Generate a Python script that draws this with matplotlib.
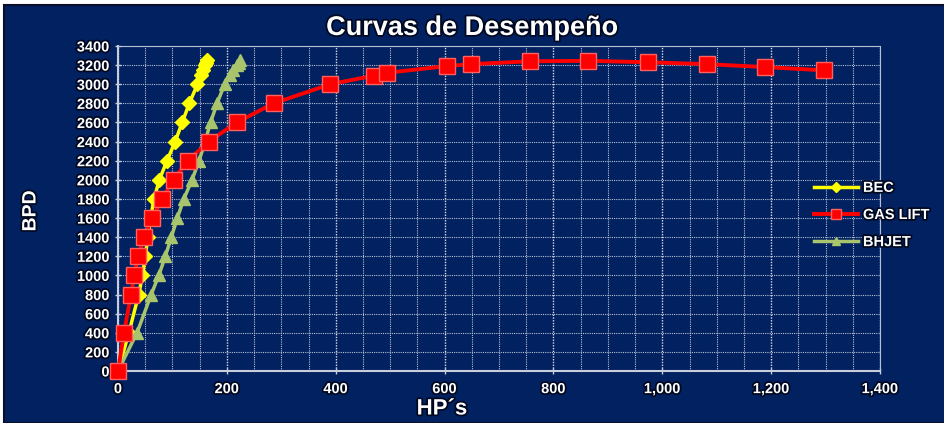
import matplotlib
matplotlib.use("Agg")
import matplotlib.pyplot as plt
import matplotlib.patheffects as pe
from matplotlib.patches import Rectangle
from matplotlib.ticker import MultipleLocator, FuncFormatter

plt.rcParams['font.family'] = ['Liberation Sans', 'DejaVu Sans']

# ---- data ----
bec_hp = [0, 20, 38, 45, 50, 55, 60, 66, 76, 90, 105, 118, 131, 146, 152, 156, 160, 162, 164]
bec_bpd = [0, 400, 800, 1000, 1200, 1400, 1600, 1800, 2000, 2200, 2400, 2600, 2800, 3000, 3100, 3150, 3200, 3225, 3250]

gas_hp = [0, 11, 24, 30, 37, 48, 63, 81, 102, 128, 167, 218, 286, 390, 470, 495, 604, 648,
          757, 864, 974, 1082, 1188, 1298]
gas_bpd = [0, 400, 800, 1000, 1200, 1400, 1600, 1800, 2000, 2200, 2400, 2600, 2800, 3000, 3090,
           3120, 3190, 3210, 3240, 3245, 3230, 3210, 3180, 3145]

bhjet_hp = [0, 35, 61, 75, 87, 98, 109, 121, 136, 149, 160, 170, 182, 196, 205, 212, 218, 222, 225]
bhjet_bpd = [0, 400, 800, 1000, 1200, 1400, 1600, 1800, 2000, 2200, 2400, 2600, 2800, 3000, 3100, 3150, 3200, 3225, 3250]

title = "Curvas de Desempeño"
xlabel = "HP´s"
ylabel = "BPD"

navy = '#012160'
shadow = [pe.withStroke(linewidth=2.5, foreground='#000820')]

fig = plt.figure(figsize=(9.45, 4.23), dpi=100, facecolor='white')
bg = Rectangle((4 / 945, 0), 1, 1 - 5 / 423, transform=fig.transFigure,
               facecolor=navy, edgecolor='#0a0f2a', linewidth=1.5, zorder=-10)
fig.patches.append(bg)

ax = fig.add_axes([118 / 945, 1 - 371 / 423, (880 - 118) / 945, (371 - 46) / 423])
ax.set_zorder(5)
ax.set_facecolor(navy)
ax.set_xlim(0, 1400)
ax.set_ylim(0, 3400)

ax.xaxis.set_major_locator(MultipleLocator(200))
ax.xaxis.set_minor_locator(MultipleLocator(50))
ax.yaxis.set_major_locator(MultipleLocator(200))
ax.xaxis.set_major_formatter(FuncFormatter(lambda v, p: f"{int(v):,}"))

ax.grid(which='major', axis='x', color='#d8dde8', linestyle=(0, (1, 1)), linewidth=1.0)
ax.grid(which='minor', axis='x', color='#b8c0d4', linestyle=(0, (1, 1)), linewidth=0.8)
ax.grid(which='major', axis='y', color='#b8c0d4', linestyle=(0, (1, 1)), linewidth=0.8)
ax.set_axisbelow(True)

for side in ['top', 'right']:
    ax.spines[side].set_color('#b8c0d4')
    ax.spines[side].set_linestyle((0, (1, 1)))
    ax.spines[side].set_linewidth(0.8)
for side in ['left', 'bottom']:
    ax.spines[side].set_color('#c8cedc')
    ax.spines[side].set_linewidth(1.5)

ax.tick_params(axis='both', which='major', colors='#c8cedc', length=4, direction='inout', width=1)
ax.tick_params(axis='x', which='minor', length=0)
ax.tick_params(axis='x', pad=6)
ax.tick_params(axis='y', pad=4)
for lab in ax.get_xticklabels() + ax.get_yticklabels():
    lab.set_color('white')
    lab.set_fontweight('bold')
    lab.set_fontsize(10.5)
    lab.set_path_effects(shadow)

l1, = ax.plot(bec_hp, bec_bpd, color='#FFFF00', linewidth=2.5, marker='D', markersize=7,
              markerfacecolor='#FFFF00', markeredgecolor='#FFFF00', clip_on=False, zorder=3, label='BEC')
l3, = ax.plot(bhjet_hp, bhjet_bpd, color='#A8C46C', linewidth=2.5, marker='^', markersize=9,
              markerfacecolor='#A8C46C', markeredgecolor='#A8C46C', clip_on=False, zorder=3, label='BHJET')
l2, = ax.plot(gas_hp, gas_bpd, color='#FF0000', linewidth=2.8, marker='s', markersize=11,
              markerfacecolor='#FF0000', markeredgecolor='#FF6060', markeredgewidth=1, clip_on=False,
              zorder=4, label='GAS LIFT')

leg = ax.legend([l1, l2, l3], ['BEC', 'GAS LIFT', 'BHJET'], loc='center left',
                bbox_to_anchor=(801 / 945, 1 - 215 / 423), bbox_transform=fig.transFigure,
                frameon=False, handlelength=3.0, markerscale=0.7,
                labelspacing=0.9, handletextpad=0.35, prop={'weight': 'bold', 'size': 10.5})
for t in leg.get_texts():
    t.set_color('white')
    t.set_path_effects(shadow)

fig.text(472 / 945, 1 - 28 / 423, title, ha='center', va='center', color='white',
         fontsize=19.5, fontweight='bold', path_effects=shadow)
fig.text(442 / 945, 1 - 409 / 423, xlabel, ha='center', va='center', color='white',
         fontsize=16, fontweight='bold', path_effects=shadow)
fig.text(31 / 945, 1 - 211 / 423, ylabel, ha='center', va='center', color='white',
         fontsize=14, fontweight='bold', rotation=90, path_effects=shadow)

fig.savefig('out.png', dpi=100, facecolor=fig.get_facecolor())
